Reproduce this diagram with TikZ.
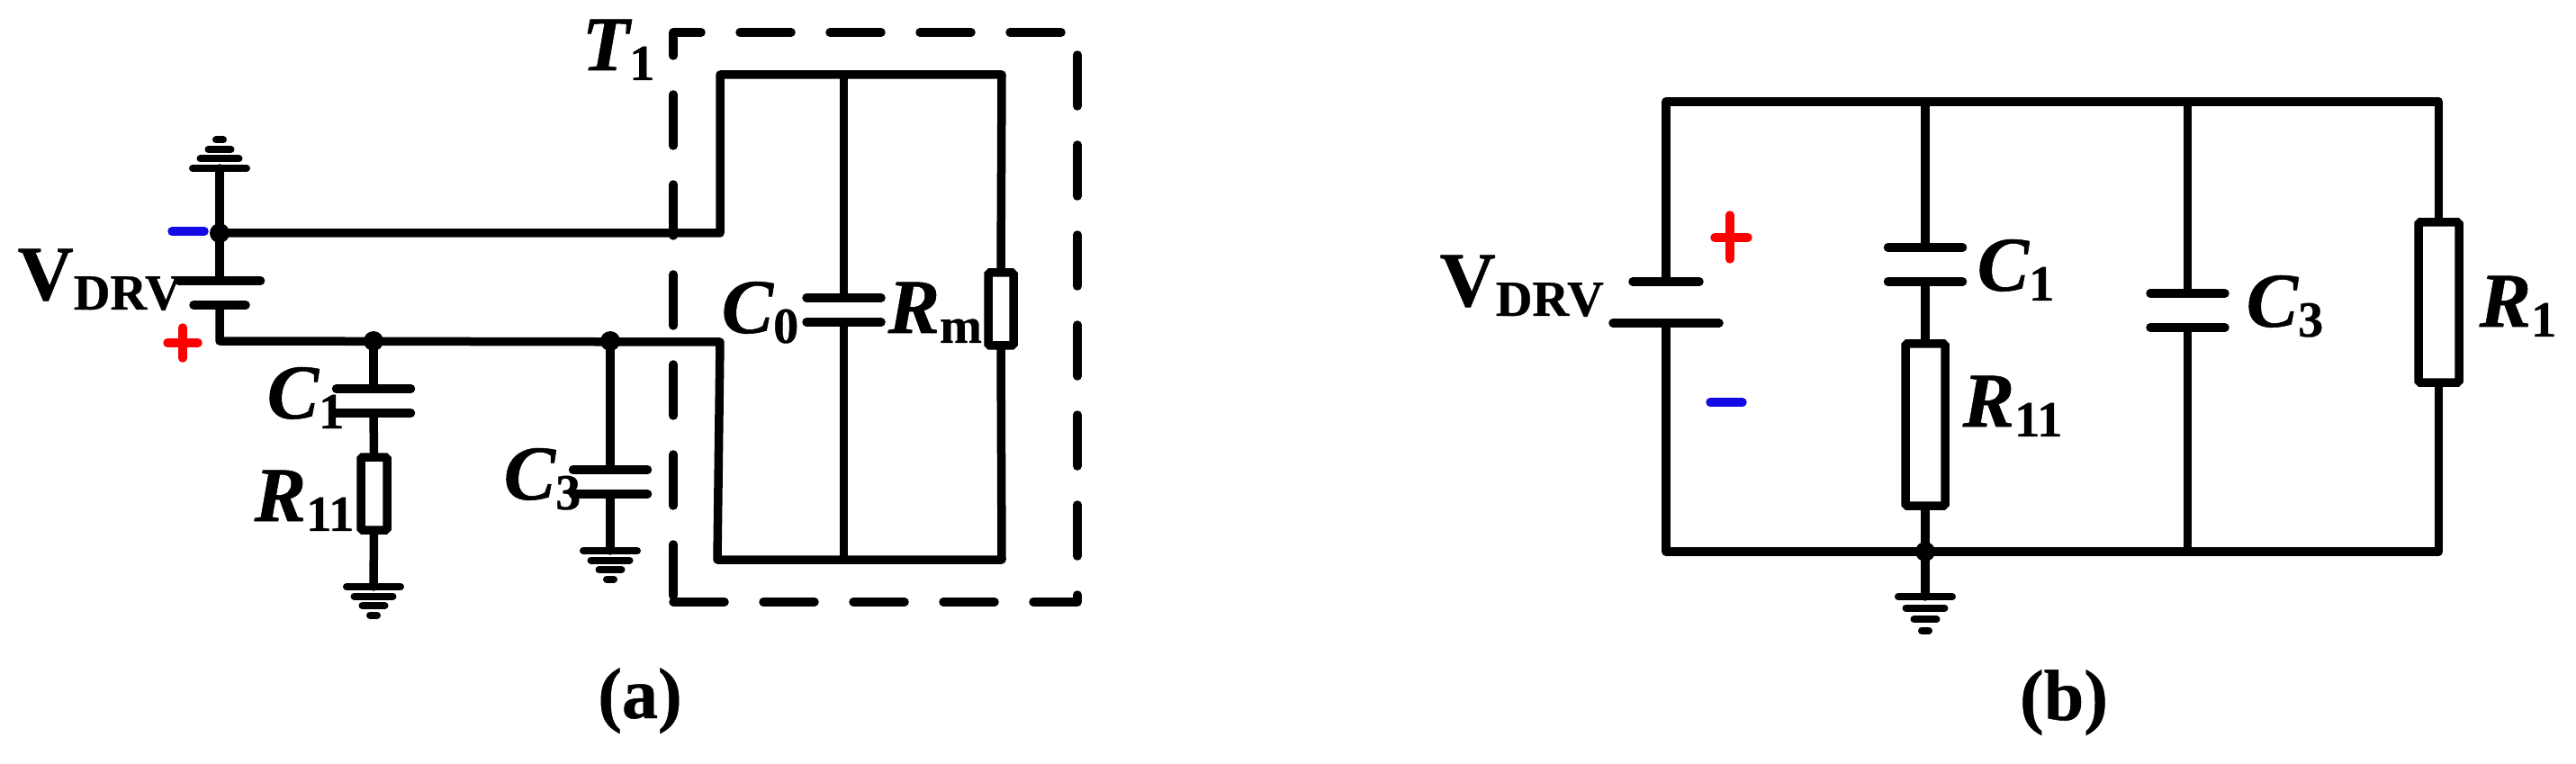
\documentclass[tikz,border=0pt]{standalone}
\usepackage{fontspec}
\setmainfont{Liberation Serif}[BoldFeatures={FakeBold=0.6},BoldItalicFeatures={FakeBold=0.6}]
\definecolor{minusblue}{RGB}{20,10,230}
\newcommand{\lab}[2]{{\fontsize{24.5}{26}\selectfont\bfseries\itshape #1}\raisebox{-0.11cm}{\fontsize{16}{18}\selectfont\bfseries #2}}
\tikzset{
	wire/.style={line width=0.095cm,line cap=round,line join=round},
	resbox/.style={draw,line width=0.095cm,fill=white,inner sep=0pt,rounded corners=0.5pt},
	labtext/.style={inner sep=0pt,anchor=base west},
	gndsym/.pic={
		\foreach \gy/\gw in {0/0.30,0.105/0.215,0.21/0.125,0.315/0.04}
			\draw[wire,line width=0.08cm] (-\gw,-\gy)--(\gw,-\gy);
	}
}

\begin{document}
\begin{tikzpicture}
	\useasboundingbox (0,0) rectangle (28.62,8.48);
	% (a)
	\draw[wire,dashed,dash pattern=on 0.57cm off 0.43cm] (7.48,1.79)--(11.97,1.79)--(11.97,8.12)--(7.48,8.12)--cycle;
	\coordinate (topa) at (2.44,5.89);
	\coordinate (gnda) at (2.44,6.61);
	\coordinate (bata1) at (2.44,5.36);
	\coordinate (bata2) at (2.44,5.09);
	\coordinate (lowa) at (2.44,4.69);
	\coordinate (jca) at (4.15,4.69);
	\coordinate (jcb) at (6.78,4.69);
	\coordinate (c1a) at (4.15,4.16);
	\coordinate (c1b) at (4.15,3.89);
	\coordinate (g1a) at (4.15,1.96);
	\coordinate (c3a) at (6.78,3.26);
	\coordinate (c3b) at (6.78,2.99);
	\coordinate (g3a) at (6.78,2.36);
	\coordinate (lt) at (8.00,5.89);
	\coordinate (lu) at (8.00,7.65);
	\coordinate (ru) at (11.13,7.65);
	\coordinate (ll) at (8.00,4.68);
	\coordinate (lb) at (7.97,2.26);
	\coordinate (rb) at (11.13,2.26);
	\coordinate (mt) at (9.375,7.65);
	\coordinate (mb) at (9.375,2.26);
	\coordinate (c0a) at (9.375,5.17);
	\coordinate (c0b) at (9.375,4.90);
	\node[resbox,minimum width=0.29cm,minimum height=0.81cm] (r11a) at (4.155,2.995) {};
	\node[resbox,minimum width=0.28cm,minimum height=0.81cm] (rm) at (11.12,5.045) {};
	\draw[wire] (gnda)--(bata1);
	\draw[wire] (topa)--(lt)--(lu)--(ru)--(rm.north);
	\draw[wire] (bata2)--(lowa)--(ll)--(lb)--(rb)--(rm.south);
	\draw[wire] (mt)--(c0a);
	\draw[wire] (c0b)--(mb);
	\draw[wire] (jca)--(c1a);
	\draw[wire] (c1b)--(r11a.north);
	\draw[wire] (r11a.south)--(g1a);
	\draw[wire] (jcb)--(c3a);
	\draw[wire] (c3b)--(g3a);
	\foreach \plate/\half in {bata1/0.455,bata2/0.29,c1a/0.415,c1b/0.415,c3a/0.415,c3b/0.415,c0a/0.415,c0b/0.415}
		\draw[wire] ([xshift=-\half cm]\plate)--([xshift=\half cm]\plate);
	\foreach \dotn in {topa,jca,jcb}
		\fill (\dotn) circle (0.11);
	\pic[yscale=-1] at (gnda) {gndsym};
	\pic at (g1a) {gndsym};
	\pic at (g3a) {gndsym};
	\draw[wire,minusblue] (1.91,5.91)--(2.27,5.91);
	\draw[wire,red] (1.86,4.67)--(2.20,4.67);
	\draw[wire,red] (2.03,4.50)--(2.03,4.84);
	\node[labtext] (vdrva) at (0.19,5.15) {\lab{\upshape V}{DRV}};
	\node[labtext] (t1) at (6.46,7.70) {\lab{T}{1}};
	\node[labtext] (c1la) at (2.96,3.83) {\lab{C}{1}};
	\node[labtext] (r11la) at (2.82,2.69) {\lab{R}{11}};
	\node[labtext] (c3la) at (5.59,2.93) {\lab{C}{3}};
	\node[labtext] (c0l) at (8.01,4.78) {\lab{C}{0}};
	\node[labtext] (rml) at (9.86,4.78) {\lab{R}{m}};
	\node[inner sep=0pt,anchor=base] (capa) at (7.11,0.50) {\fontsize{22.8}{24}\selectfont\bfseries (a)};
	% (b)
	\coordinate (tl) at (18.51,7.35);
	\coordinate (tr) at (27.095,7.35);
	\coordinate (bl) at (18.51,2.35);
	\coordinate (br) at (27.095,2.35);
	\coordinate (batb1) at (18.51,5.35);
	\coordinate (batb2) at (18.51,4.89);
	\coordinate (t1b) at (21.39,7.35);
	\coordinate (c1c) at (21.39,5.73);
	\coordinate (c1d) at (21.39,5.35);
	\coordinate (jb) at (21.39,2.35);
	\coordinate (gb) at (21.39,1.85);
	\coordinate (t3b) at (24.305,7.35);
	\coordinate (b3b) at (24.305,2.35);
	\coordinate (c3c) at (24.305,5.22);
	\coordinate (c3d) at (24.305,4.84);
	\node[resbox,minimum width=0.44cm,minimum height=1.80cm] (r11b) at (21.39,3.76) {};
	\node[resbox,minimum width=0.45cm,minimum height=1.78cm] (r1) at (27.095,5.12) {};
	\draw[wire] (batb1)--(tl)--(tr)--(r1.north);
	\draw[wire] (batb2)--(bl)--(br)--(r1.south);
	\draw[wire] (t1b)--(c1c);
	\draw[wire] (c1d)--(r11b.north);
	\draw[wire] (r11b.south)--(gb);
	\draw[wire] (t3b)--(c3c);
	\draw[wire] (c3d)--(b3b);
	\foreach \plate/\half in {batb1/0.37,batb2/0.59,c1c/0.415,c1d/0.415,c3c/0.415,c3d/0.415}
		\draw[wire] ([xshift=-\half cm]\plate)--([xshift=\half cm]\plate);
	\fill (jb) circle (0.11);
	\pic[yscale=1.2] at (gb) {gndsym};
	\draw[wire,red] (19.05,5.84)--(19.42,5.84);
	\draw[wire,red] (19.22,5.60)--(19.22,6.09);
	\draw[wire,minusblue] (19.00,4.01)--(19.36,4.01);
	\node[labtext] (vdrvb) at (15.99,5.08) {\lab{\upshape V}{DRV}};
	\node[labtext] (c1lb) at (21.96,5.25) {\lab{C}{1}};
	\node[labtext] (r11lb) at (21.80,3.74) {\lab{R}{11}};
	\node[labtext] (c3lb) at (24.95,4.85) {\lab{C}{3}};
	\node[labtext] (r1l) at (27.54,4.85) {\lab{R}{1}};
	\node[inner sep=0pt,anchor=base] (capb) at (22.93,0.48) {\fontsize{22.8}{24}\selectfont\bfseries (b)};
\end{tikzpicture}
\end{document}
